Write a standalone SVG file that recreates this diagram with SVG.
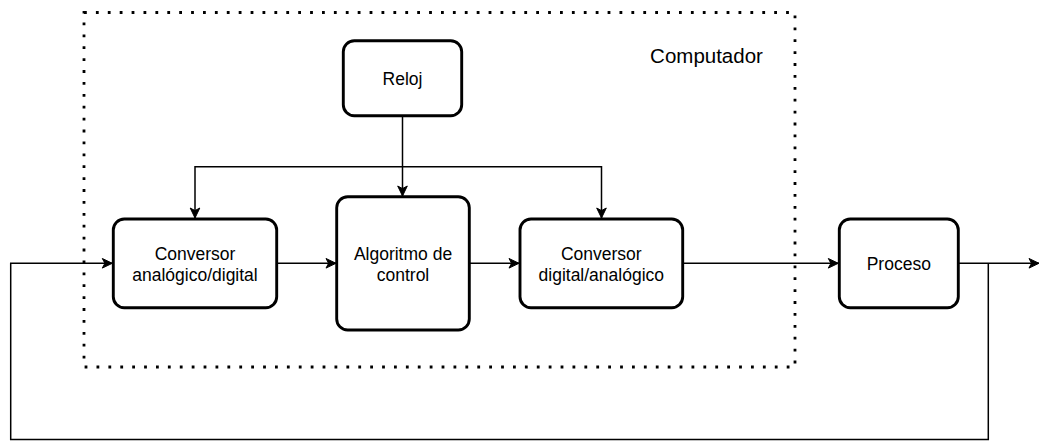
<svg xmlns="http://www.w3.org/2000/svg" width="1040" height="441" viewBox="0 0 1040 441">
  <style>
    .box { fill: #ffffff; stroke: #000000; stroke-width: 2.9; }
    .lbl { font-family: "Liberation Sans", Arial, Helvetica, sans-serif; font-size: 17.5px; fill: #000000; text-anchor: middle; }
    .title { font-family: "Liberation Sans", Arial, Helvetica, sans-serif; font-size: 20.5px; fill: #000000; text-anchor: middle; }
    .conn { fill: none; stroke: #000000; stroke-width: 1.5; }
    .dotted { fill: none; stroke: #000000; stroke-width: 2.8; stroke-dasharray: 2.8 9.1; }
  </style>
  <defs>
    <marker id="arrow" markerUnits="userSpaceOnUse" markerWidth="14" markerHeight="14" viewBox="0 0 14 14" refX="12" refY="7" orient="auto">
      <path d="M2,2.2 L12,7 L2,11.8 L4.6,7 Z" fill="#000000" stroke="#000000" stroke-width="1"/>
    </marker>
  </defs>
  <rect width="1040" height="441" fill="#ffffff"/>

  <g id="computador">
    <rect class="dotted" x="84" y="12.5" width="711" height="354.5"/>
    <text class="title" x="706.5" y="63.3">Computador</text>
  </g>

  <g id="connectors">
    <path class="conn" d="M402.5 116 V196" marker-end="url(#arrow)"/>
    <path class="conn" d="M402.5 166.7 H195 V218" marker-end="url(#arrow)"/>
    <path class="conn" d="M402.5 166.7 H601.5 V218" marker-end="url(#arrow)"/>
    <path class="conn" d="M276.7 263.3 H336" marker-end="url(#arrow)"/>
    <path class="conn" d="M469.3 263.3 H519" marker-end="url(#arrow)"/>
    <path class="conn" d="M682.7 263.3 H838.3" marker-end="url(#arrow)"/>
    <path class="conn" d="M958.3 263.3 H1039" marker-end="url(#arrow)"/>
    <path class="conn" d="M988.3 263.3 V439.5 H10.7 V263.3 H112.3" marker-end="url(#arrow)"/>
  </g>

  <g id="reloj">
    <rect class="box" x="343.3" y="40.7" width="118.4" height="75" rx="11" ry="11"/>
    <text class="lbl" x="402.5" y="84.5">Reloj</text>
  </g>

  <g id="conversor-ad">
    <rect class="box" x="113.3" y="219" width="163.4" height="88.7" rx="11" ry="11"/>
    <text class="lbl" x="195" y="260">Conversor</text>
    <text class="lbl" x="195" y="281">analógico/digital</text>
  </g>

  <g id="algoritmo">
    <rect class="box" x="336.7" y="196.7" width="132.6" height="133.3" rx="11" ry="11"/>
    <text class="lbl" x="403" y="260">Algoritmo de</text>
    <text class="lbl" x="403" y="281">control</text>
  </g>

  <g id="conversor-da">
    <rect class="box" x="520" y="219" width="162.7" height="88.7" rx="11" ry="11"/>
    <text class="lbl" x="601.3" y="260">Conversor</text>
    <text class="lbl" x="601.3" y="281">digital/analógico</text>
  </g>

  <g id="proceso">
    <rect class="box" x="839.3" y="219" width="119" height="88.7" rx="11" ry="11"/>
    <text class="lbl" x="898.8" y="269.7">Proceso</text>
  </g>
</svg>
